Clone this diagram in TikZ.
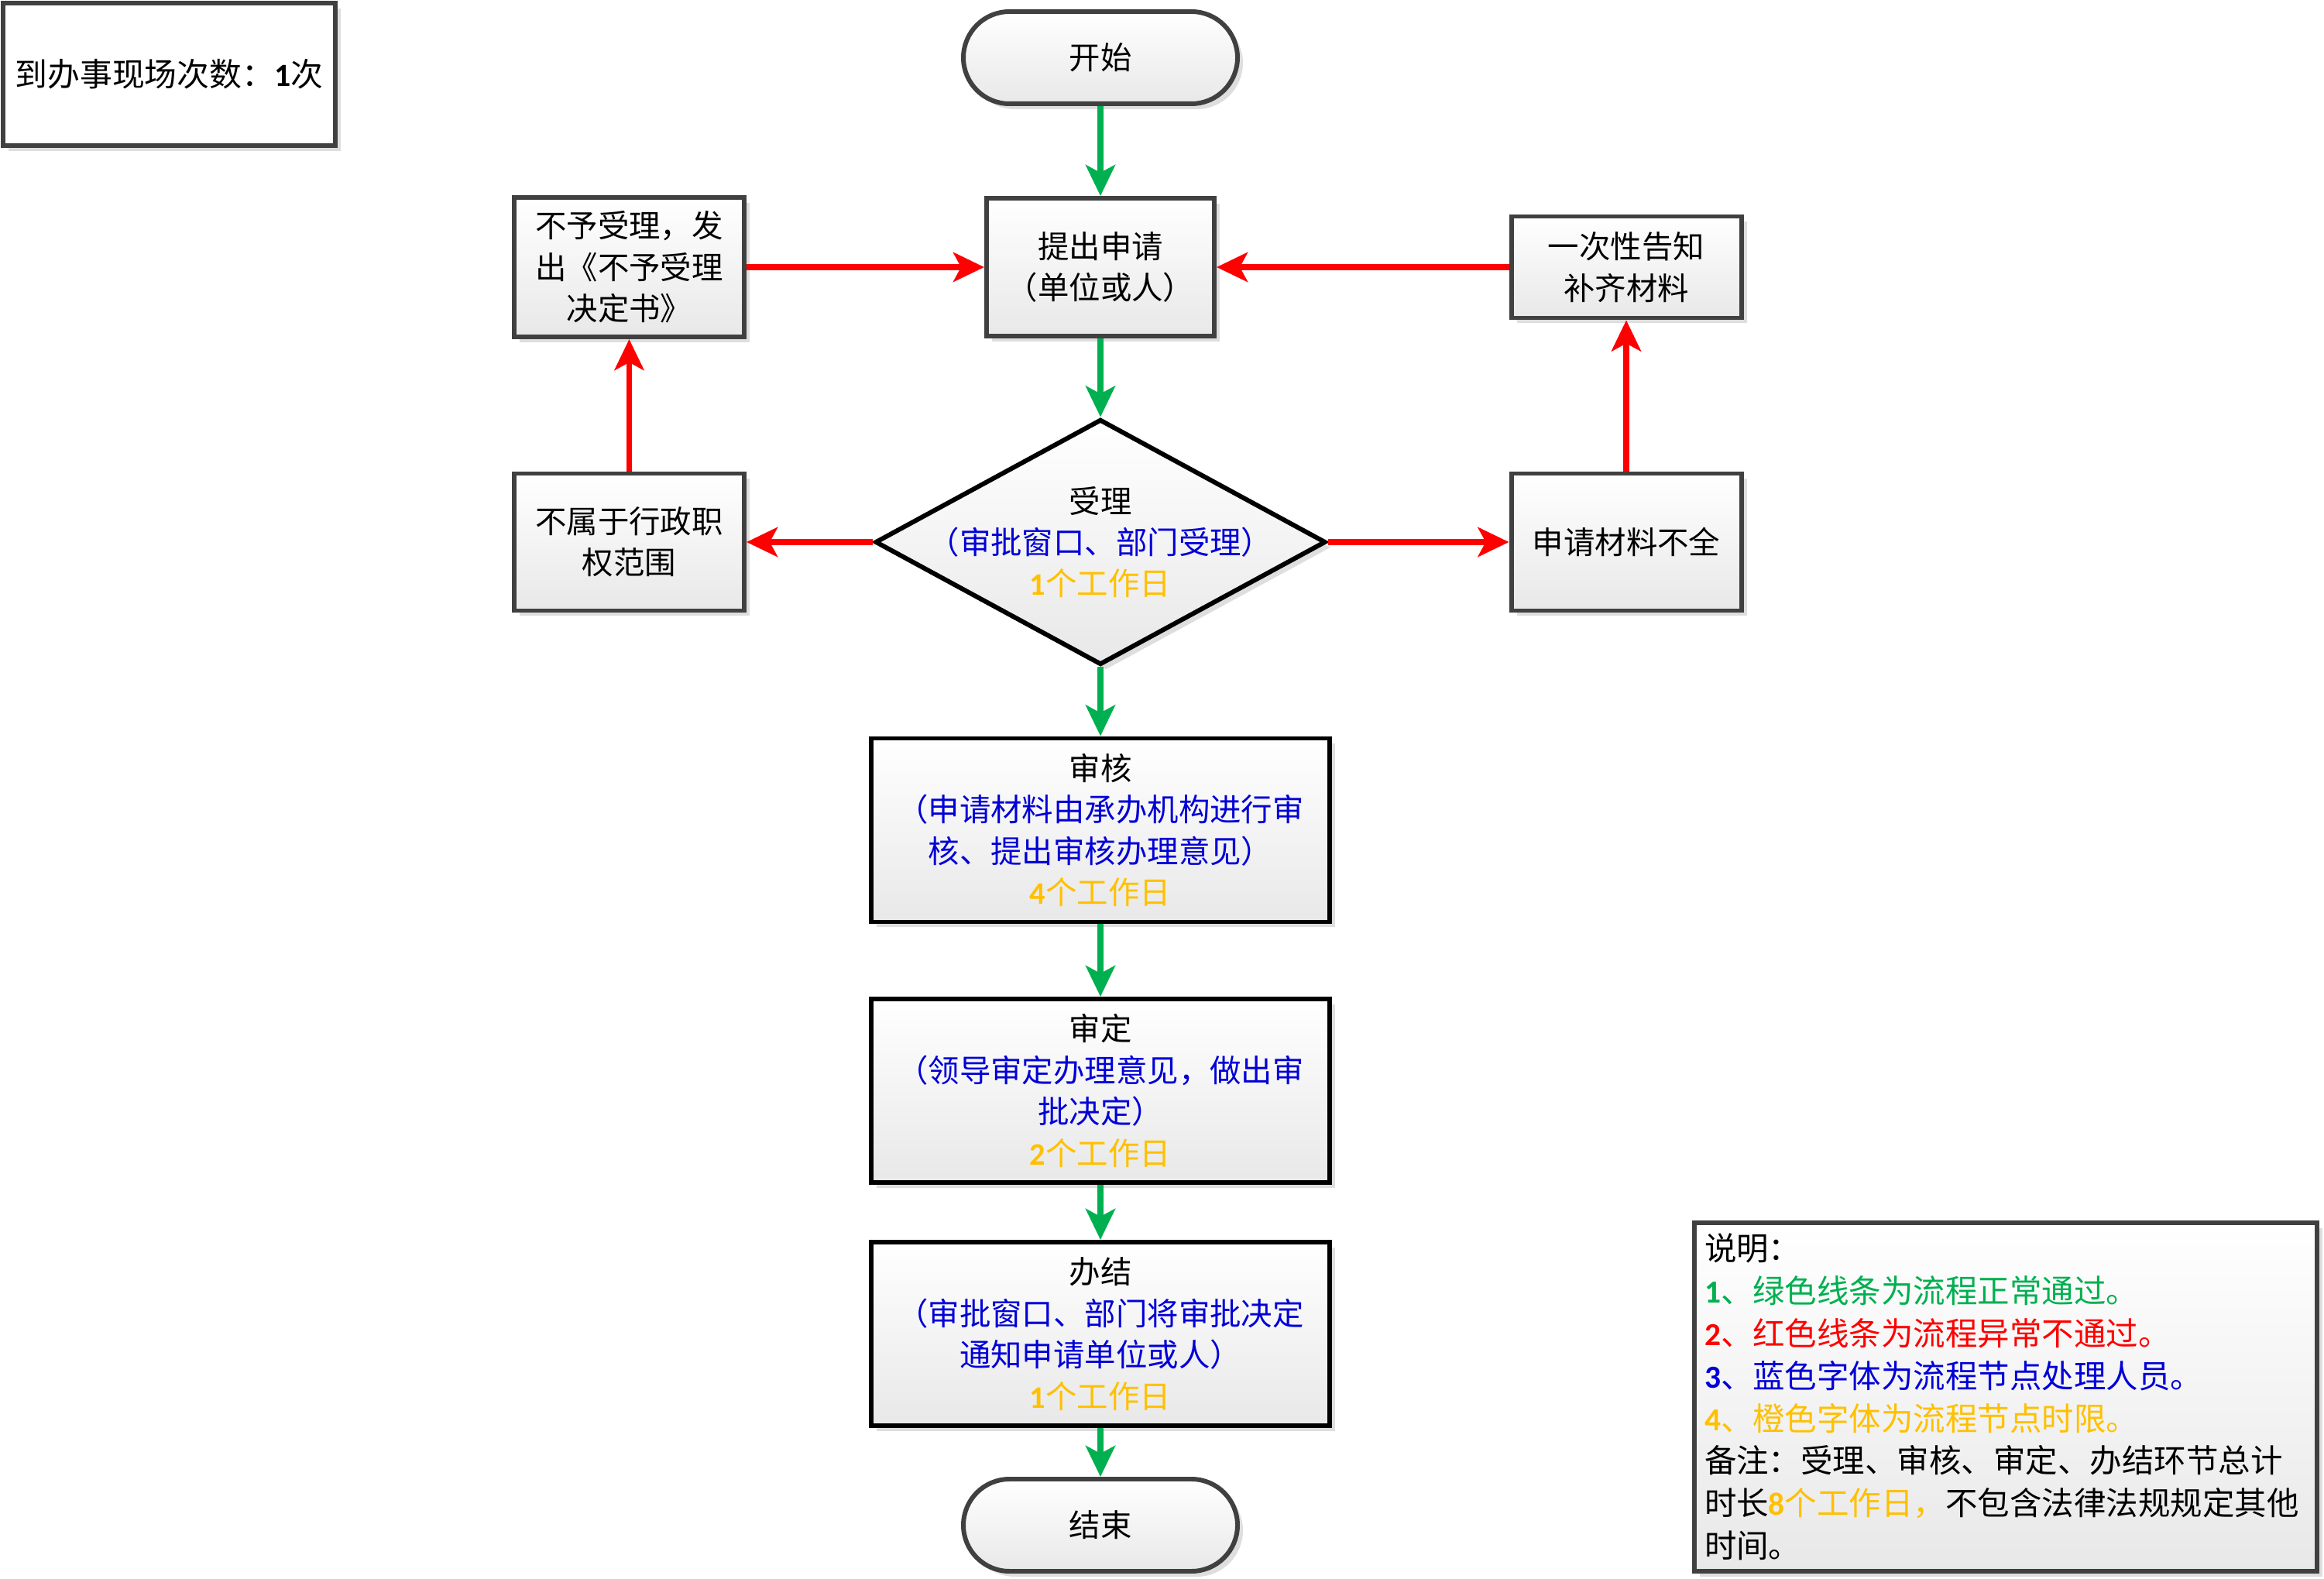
\documentclass[tikz,border=0pt]{standalone}
\usepackage{fontspec}
\setmainfont{Noto Sans CJK SC}
\newfontfamily\numfont{Carlito}
\usepackage{xcolor}
\usetikzlibrary{arrows.meta, shapes.geometric, shadows, calc, positioning}
\definecolor{okgreen}{RGB}{0,176,80}
\definecolor{badred}{RGB}{255,0,0}
\definecolor{staffblue}{RGB}{0,0,215}
\definecolor{limitorange}{RGB}{255,192,0}
\definecolor{edgegray}{RGB}{64,64,64}
\newcommand{\bodysize}{\fontsize{11.5pt}{15.2pt}\selectfont}
\newcommand{\notesize}{\fontsize{11.8pt}{15.6pt}\selectfont}
\newcommand{\countsize}{\fontsize{11.9pt}{15.6pt}\selectfont}
\newcommand{\who}[1]{\textcolor{staffblue}{#1}}
\newcommand{\limit}[1]{\textcolor{limitorange}{{\numfont\bfseries #1}个工作日}}
\newcommand{\terminal}[3]{
    \node[terminalbox] (#1) at (#2) {#3};
}
\newcommand{\process}[5]{
    \node[processbox, minimum width=#3cm, minimum height=#4cm] (#1) at (#2) {#5};
}
\newcommand{\stage}[3]{
    \node[stagebox] (#1) at (#2) {#3};
}
\newcommand{\decision}[3]{
    \node[decisionbox] (#1) at (#2) {};
    \node[font=\bodysize, align=center] (#1-t) at (#1) {#3};
}
\tikzset{
    shadowed/.style={drop shadow={shadow xshift=0.07cm, shadow yshift=-0.07cm, fill=black!13, opacity=1}},
    shaded/.style={top color=white, bottom color=black!9},
    processbox/.style={rectangle, draw=edgegray, line width=1.7pt, shaded, shadowed, align=center, inner sep=0pt, font=\bodysize},
    stagebox/.style={processbox, draw=black, minimum width=5.92cm, minimum height=2.37cm},
    terminalbox/.style={processbox, rounded corners=0.595cm, minimum width=3.54cm, minimum height=1.19cm},
    decisionbox/.style={diamond, draw=black, line width=1.7pt, shaded, shadowed, inner sep=0pt, minimum width=5.82cm, minimum height=3.17cm},
    countbox/.style={rectangle, draw=edgegray, line width=1.7pt, fill=white, shadowed, font=\countsize, minimum width=4.29cm, minimum height=1.84cm},
    notebox/.style={processbox, align=left, text width=7.78cm, inner xsep=0.13cm, minimum height=4.50cm, font=\notesize},
    pass/.style={draw=okgreen, line width=2.2pt, -{Stealth[length=0.4cm, width=0.38cm, inset=0.1cm]}},
    fail/.style={pass, draw=badred},
}
\begin{document}
\begin{tikzpicture}
    \useasboundingbox (0, 0) rectangle (30.01, -20.39);
    \node[countbox] (visits) at (2.185, -0.96) {到办事现场次数：{\numfont\bfseries 1}次};
    \terminal{start}{14.21, -0.745}{开始}
    \process{apply}{14.21, -3.45}{2.94}{1.78}{提出申请\\（单位或人）}
    \process{reject}{8.125, -3.45}{2.97}{1.80}{不予受理，发\\出《不予受理\\决定书》}
    \process{notify}{21.0, -3.45}{2.97}{1.31}{一次性告知\\补齐材料}
    \decision{accept}{14.21, -7.0}{受理\\\who{（审批窗口、部门受理）}\\\limit{1}}
    \process{outscope}{8.125, -7.0}{2.97}{1.77}{不属于行政职\\权范围}
    \process{incomplete}{21.0, -7.0}{2.97}{1.77}{申请材料不全}
    \stage{review}{14.21, -10.72}{审核\\\who{（申请材料由承办机构进行审}\\\who{核、提出审核办理意见）}\\\limit{4}}
    \stage{decide}{14.21, -14.085}{审定\\\who{（领导审定办理意见，做出审}\\\who{批决定）}\\\limit{2}}
    \stage{finish}{14.21, -17.225}{办结\\\who{（审批窗口、部门将审批决定}\\\who{通知申请单位或人）}\\\limit{1}}
    \terminal{end}{14.21, -19.695}{结束}
    \node[notebox] (legend) at (25.90, -18.04) {说明：\\
        \textcolor{okgreen}{{\numfont\bfseries 1}、绿色线条为流程正常通过。}\\
        \textcolor{badred}{{\numfont\bfseries 2}、红色线条为流程异常不通过。}\\
        \who{{\numfont\bfseries 3}、蓝色字体为流程节点处理人员。}\\
        \textcolor{limitorange}{{\numfont\bfseries 4}、橙色字体为流程节点时限。}\\
        备注：受理、审核、审定、办结环节总计\\
        时长\textcolor{limitorange}{{\numfont\bfseries 8}个工作日，}不包含法律法规规定其他\\
        时间。};
    \path
    (start) edge[pass] (apply)
    (apply) edge[pass] (accept)
    (accept) edge[pass] (review)
    (review) edge[pass] (decide)
    (decide) edge[pass] (finish)
    (finish) edge[pass] (end)
    (accept) edge[fail] (outscope)
    (accept) edge[fail] (incomplete)
    (outscope) edge[fail] (reject)
    (incomplete) edge[fail] (notify)
    (reject) edge[fail] (apply)
    (notify) edge[fail] (apply);
\end{tikzpicture}
\end{document}
